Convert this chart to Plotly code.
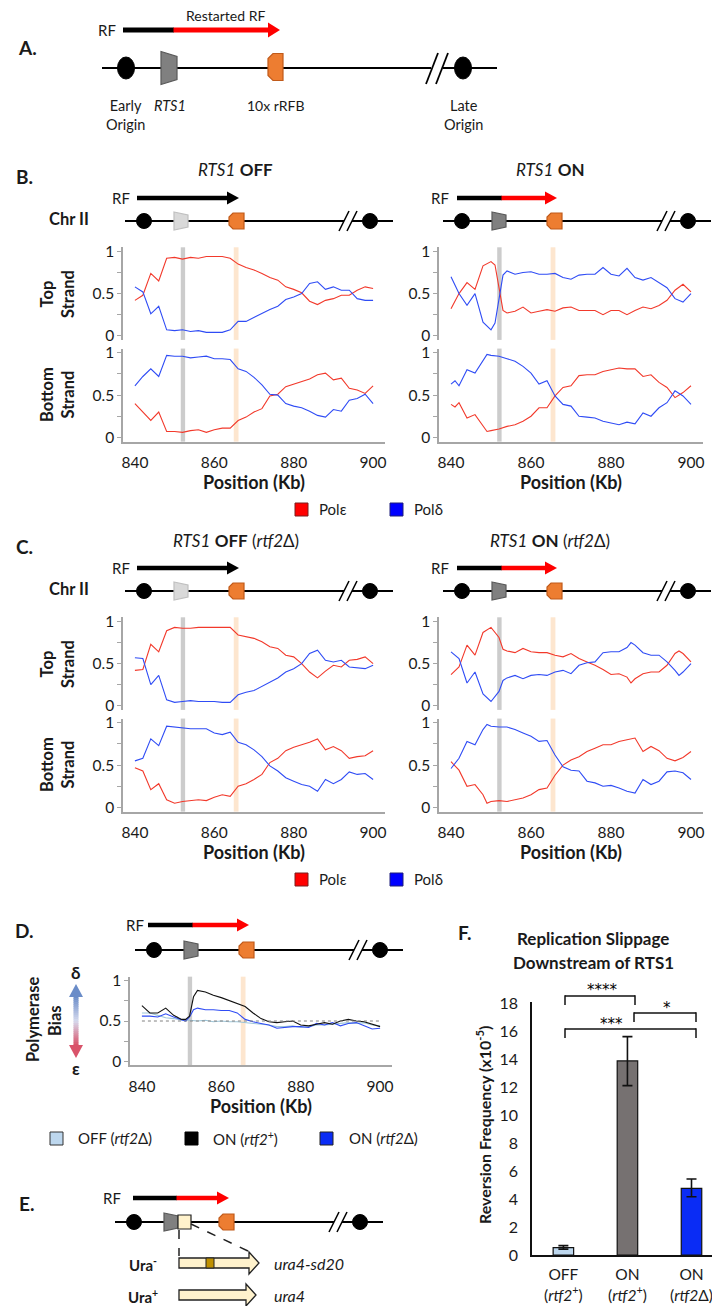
import plotly.graph_objects as go

# ---------------- data ----------------
POS = [840, 842, 844, 846, 848, 850, 852, 854, 856, 858, 860, 862, 864, 866, 868, 870,
       872, 874, 876, 878, 880, 882, 884, 886, 888, 890, 892, 894, 896, 898, 900]

# B: RTS1 OFF
B_OFF_TOP_EPS = [0.42, 0.48, 0.74, 0.65, 0.92, 0.93, 0.91, 0.93, 0.92, 0.94, 0.94, 0.94, 0.92, 0.85, 0.81, 0.78,
                 0.74, 0.69, 0.66, 0.58, 0.55, 0.51, 0.41, 0.37, 0.42, 0.44, 0.48, 0.48, 0.54, 0.58, 0.56]
B_OFF_TOP_DEL = [0.58, 0.52, 0.26, 0.35, 0.07, 0.06, 0.07, 0.05, 0.06, 0.04, 0.04, 0.04, 0.07, 0.17, 0.17, 0.22,
                 0.26, 0.31, 0.35, 0.43, 0.46, 0.50, 0.62, 0.64, 0.55, 0.58, 0.54, 0.54, 0.44, 0.42, 0.42]
B_OFF_BOT_EPS = [0.40, 0.30, 0.20, 0.30, 0.07, 0.07, 0.06, 0.08, 0.09, 0.06, 0.09, 0.11, 0.11, 0.20, 0.24, 0.30,
                 0.34, 0.49, 0.51, 0.60, 0.63, 0.66, 0.69, 0.74, 0.76, 0.68, 0.70, 0.58, 0.56, 0.52, 0.61]
B_OFF_BOT_DEL = [0.61, 0.72, 0.81, 0.72, 0.97, 0.96, 0.96, 0.94, 0.95, 0.96, 0.93, 0.93, 0.92, 0.81, 0.78, 0.71,
                 0.62, 0.51, 0.50, 0.40, 0.37, 0.35, 0.31, 0.26, 0.24, 0.33, 0.31, 0.44, 0.46, 0.51, 0.40]

# B: RTS1 ON
POS_B_ON_TOP = [840, 842, 844, 846, 848, 850, 851, 852, 853, 854, 856, 858, 860, 862, 864, 866, 868,
                870, 872, 874, 876, 878, 880, 882, 884, 886, 888, 890, 892, 894, 896, 898, 900]
B_ON_TOP_EPS = [0.32, 0.50, 0.63, 0.55, 0.83, 0.88, 0.84, 0.58, 0.30, 0.27, 0.29, 0.34, 0.27, 0.29, 0.31, 0.29, 0.33,
                0.34, 0.30, 0.30, 0.30, 0.25, 0.30, 0.30, 0.25, 0.30, 0.34, 0.32, 0.36, 0.42, 0.54, 0.61, 0.52]
B_ON_TOP_DEL = [0.70, 0.50, 0.36, 0.50, 0.16, 0.07, 0.15, 0.44, 0.72, 0.77, 0.73, 0.75, 0.76, 0.73, 0.73, 0.74, 0.69,
                0.67, 0.72, 0.73, 0.73, 0.81, 0.73, 0.71, 0.80, 0.69, 0.66, 0.69, 0.63, 0.57, 0.44, 0.40, 0.50]
POS_B_ON_BOT = [840, 841, 842, 844, 846, 848, 849, 850, 852, 854, 856, 858, 860, 862, 864, 866, 868,
                870, 872, 874, 876, 878, 880, 882, 884, 886, 888, 890, 892, 894, 896, 898, 900]
B_ON_BOT_EPS = [0.39, 0.36, 0.41, 0.23, 0.27, 0.13, 0.07, 0.08, 0.10, 0.13, 0.15, 0.19, 0.25, 0.35, 0.35, 0.49, 0.59,
                0.61, 0.73, 0.74, 0.74, 0.78, 0.80, 0.82, 0.81, 0.81, 0.72, 0.74, 0.65, 0.59, 0.47, 0.53, 0.61]
B_ON_BOT_DEL = [0.63, 0.67, 0.61, 0.80, 0.76, 0.90, 0.98, 0.97, 0.96, 0.93, 0.90, 0.84, 0.76, 0.63, 0.67, 0.49, 0.39,
                0.37, 0.25, 0.24, 0.23, 0.19, 0.17, 0.15, 0.18, 0.16, 0.29, 0.25, 0.35, 0.41, 0.55, 0.49, 0.39]

# C: RTS1 OFF (rtf2Δ)
C_OFF_TOP_EPS = [0.42, 0.43, 0.73, 0.64, 0.89, 0.93, 0.92, 0.92, 0.93, 0.93, 0.93, 0.93, 0.93, 0.84, 0.82, 0.80,
                 0.76, 0.70, 0.68, 0.60, 0.58, 0.50, 0.40, 0.33, 0.41, 0.48, 0.46, 0.54, 0.55, 0.58, 0.50]
C_OFF_TOP_DEL = [0.57, 0.56, 0.25, 0.36, 0.07, 0.04, 0.05, 0.06, 0.05, 0.05, 0.05, 0.04, 0.04, 0.13, 0.16, 0.18,
                 0.23, 0.29, 0.33, 0.40, 0.44, 0.50, 0.62, 0.66, 0.54, 0.52, 0.54, 0.46, 0.45, 0.44, 0.48]
C_OFF_BOT_EPS = [0.47, 0.43, 0.21, 0.28, 0.09, 0.05, 0.07, 0.08, 0.09, 0.08, 0.12, 0.15, 0.13, 0.25, 0.28, 0.33,
                 0.39, 0.53, 0.58, 0.67, 0.71, 0.74, 0.77, 0.81, 0.68, 0.72, 0.67, 0.58, 0.60, 0.61, 0.67]
C_OFF_BOT_DEL = [0.55, 0.58, 0.81, 0.73, 0.96, 0.95, 0.94, 0.93, 0.93, 0.93, 0.88, 0.86, 0.89, 0.77, 0.74, 0.68,
                 0.60, 0.49, 0.43, 0.35, 0.31, 0.27, 0.25, 0.19, 0.33, 0.28, 0.33, 0.42, 0.39, 0.40, 0.33]

# C: RTS1 ON (rtf2Δ)
POS_C_ON_TOP = [840, 842, 844, 846, 848, 850, 852, 853, 854, 856, 858, 860, 862, 864, 866, 868, 870,
                872, 874, 876, 878, 880, 882, 884, 885, 886, 888, 890, 892, 894, 896, 897, 898, 900]
C_ON_TOP_EPS = [0.37, 0.46, 0.72, 0.60, 0.87, 0.93, 0.81, 0.67, 0.65, 0.63, 0.68, 0.64, 0.63, 0.63, 0.60, 0.58, 0.62,
                0.56, 0.52, 0.48, 0.43, 0.37, 0.38, 0.34, 0.27, 0.32, 0.38, 0.40, 0.40, 0.48, 0.62, 0.65, 0.62, 0.52]
C_ON_TOP_DEL = [0.64, 0.56, 0.27, 0.40, 0.14, 0.05, 0.17, 0.30, 0.33, 0.36, 0.32, 0.36, 0.37, 0.36, 0.40, 0.42, 0.38,
                0.48, 0.51, 0.52, 0.63, 0.64, 0.64, 0.69, 0.75, 0.72, 0.63, 0.60, 0.60, 0.52, 0.42, 0.36, 0.40, 0.50]
POS_C_ON_BOT = [840, 842, 844, 846, 848, 849, 850, 852, 854, 856, 858, 860, 862, 864, 866, 868,
                870, 872, 874, 876, 878, 880, 882, 884, 886, 888, 890, 892, 894, 896, 898, 900]
C_ON_BOT_EPS = [0.54, 0.44, 0.25, 0.27, 0.15, 0.05, 0.07, 0.08, 0.07, 0.09, 0.11, 0.15, 0.21, 0.23, 0.38, 0.50,
                0.56, 0.60, 0.66, 0.70, 0.74, 0.74, 0.78, 0.80, 0.82, 0.66, 0.72, 0.67, 0.58, 0.55, 0.59, 0.66]
C_ON_BOT_DEL = [0.46, 0.58, 0.78, 0.74, 0.92, 0.98, 0.96, 0.95, 0.95, 0.92, 0.88, 0.84, 0.78, 0.79, 0.62, 0.48,
                0.44, 0.43, 0.31, 0.29, 0.25, 0.26, 0.23, 0.19, 0.17, 0.33, 0.27, 0.31, 0.42, 0.43, 0.41, 0.33]

# D: polymerase bias
POS_D = [840, 842, 844, 846, 848, 850, 851, 852, 853, 854, 856, 858, 860, 862, 864, 866, 868,
         870, 872, 874, 876, 878, 880, 882, 884, 886, 888, 890, 892, 894, 896, 898, 900]
D_ON_RTF2_PLUS = [0.69, 0.60, 0.60, 0.66, 0.57, 0.52, 0.52, 0.56, 0.80, 0.88, 0.86, 0.82, 0.79, 0.75, 0.72, 0.68, 0.60,
                  0.53, 0.49, 0.48, 0.49, 0.50, 0.45, 0.44, 0.46, 0.48, 0.46, 0.50, 0.52, 0.50, 0.49, 0.46, 0.43]
D_ON_RTF2_DEL = [0.56, 0.56, 0.55, 0.59, 0.55, 0.51, 0.50, 0.55, 0.64, 0.66, 0.64, 0.64, 0.63, 0.63, 0.60, 0.52, 0.49,
                 0.47, 0.45, 0.41, 0.42, 0.43, 0.43, 0.42, 0.47, 0.45, 0.48, 0.44, 0.47, 0.48, 0.44, 0.40, 0.41]
D_OFF_RTF2_DEL = [0.60, 0.60, 0.57, 0.54, 0.53, 0.51, 0.51, 0.50, 0.51, 0.49, 0.50, 0.49, 0.49, 0.48, 0.47, 0.46,
                  0.45, 0.43, 0.43, 0.44, 0.42, 0.43, 0.45, 0.45, 0.46, 0.47, 0.48, 0.47, 0.48, 0.45, 0.44]

RTS1_KB = 852.1
RFB_KB = 865.5

# F: reversion frequency
F_CATS = ["OFF<br>(<i>rtf2</i><sup>+</sup>)", "ON<br>(<i>rtf2</i><sup>+</sup>)", "ON<br>(<i>rtf2</i>Δ)"]
F_VALUES = [0.52, 13.86, 4.76]
F_ERR_UP = [0.15, 1.74, 0.67]
F_ERR_DOWN = [0.10, 1.76, 0.60]
F_YTICKS = [0, 2, 4, 6, 8, 10, 12, 14, 16, 18]

# ---------------- styling / helpers ----------------
W, H = 712, 1306
FONT = "Lato, 'Open Sans', 'DejaVu Sans', sans-serif"
TXT = "#1a1a1a"
RED = "#f2392b"
BLUE = "#2f4cf5"
ARROW_RED = "#ff0000"
AXC = "#a6a6a6"

shapes, annotations, axes = [], [], {}
fig = go.Figure()


def X(p):
    return p / W


def Y(p):
    return 1 - p / H


def seg(x0, y0, x1, y1, color="black", width=2, dash=None):
    shapes.append(dict(type="line", xref="paper", yref="paper", x0=X(x0), y0=Y(y0), x1=X(x1), y1=Y(y1),
                       line=dict(color=color, width=width, dash=dash)))


def rect(x0, y0, x1, y1, fill, lc=None, lw=0):
    shapes.append(dict(type="rect", xref="paper", yref="paper", x0=X(x0), y0=Y(y1), x1=X(x1), y1=Y(y0),
                       fillcolor=fill, line=dict(color=lc or fill, width=lw)))


def ellipse(cx, cy, w, h, fill="black"):
    shapes.append(dict(type="circle", xref="paper", yref="paper", x0=X(cx - w / 2), x1=X(cx + w / 2),
                       y0=Y(cy + h / 2), y1=Y(cy - h / 2), fillcolor=fill, line=dict(color=fill, width=1)))


def poly(pts, fill, lc=None, lw=1):
    path = "M " + " L ".join(f"{X(a):.5f},{Y(b):.5f}" for a, b in pts) + " Z"
    shapes.append(dict(type="path", xref="paper", yref="paper", path=path, fillcolor=fill,
                       line=dict(color=lc or fill, width=lw)))


def text(x, y, s, size=15, xanchor="center", angle=0, color=TXT, family=FONT):
    annotations.append(dict(x=X(x), y=Y(y), xref="paper", yref="paper", text=s, showarrow=False,
                            font=dict(size=size, family=family, color=color), xanchor=xanchor,
                            yanchor="middle", textangle=angle, borderpad=0))


def fork(xs, xm, xe, y, thick=5, hl=12, hh=6.5, restarted=True):
    if restarted:
        seg(xs, y, xm, y, "black", thick)
        seg(xm - 0.5, y, xe - hl + 1, y, ARROW_RED, thick)
        poly([(xe - hl, y - hh), (xe, y), (xe - hl, y + hh)], ARROW_RED, ARROW_RED, 0)
    else:
        seg(xs, y, xe - hl + 1, y, "black", thick)
        poly([(xe - hl, y - hh), (xe, y), (xe - hl, y + hh)], "black", "black", 0)


def trapezoid(l, r, cy, hl, hr, fill, lc):
    poly([(l, cy - hl), (r, cy - hr), (r, cy + hr), (l, cy + hl)], fill, lc, 1.2)


def rfb(l, r, cy, h, cut=4):
    poly([(l + cut, cy - h), (r, cy - h), (r, cy + h), (l + cut, cy + h), (l, cy + h - cut), (l, cy - h + cut)],
         "#ed7d31", "#c05a1a", 1.2)


def slashes(xc, cy, h):
    for dx in (-4, 4):
        seg(xc + dx - 5, cy + h, xc + dx + 5, cy - h, "black", 1.6)


def chromosome(x0, cy, rts_fill, rts_line, extra_box=False):
    seg(x0, cy, x0 + 219, cy, "black", 2)
    seg(x0 + 227, cy, x0 + 268, cy, "black", 2)
    slashes(x0 + 223, cy, 10)
    ellipse(x0 + 19, cy, 15, 15)
    trapezoid(x0 + 49, x0 + 63, cy, 9, 6, rts_fill, rts_line)
    rfb(x0 + 104, x0 + 119, cy, 8)
    ellipse(x0 + 245, cy, 15, 15)
    if extra_box:
        rect(x0 + 63, cy - 7, x0 + 76, cy + 7, "#fff2cc", "#222222", 1.2)


# ---------------- profile subplots ----------------
n_ax = [0]


def profile(xpx, p1, p0, series, bottom):
    n_ax[0] += 1
    i = n_ax[0]
    xr = "x" if i == 1 else f"x{i}"
    yr = "y" if i == 1 else f"y{i}"
    span = p0 - p1
    top, bot = p1 - 0.05 * span, p0 + 0.05 * span
    xa = dict(domain=[X(xpx[0]), X(xpx[1])], range=[837, 903], anchor=yr, showgrid=False, zeroline=False,
              automargin=False)
    if bottom:
        xa.update(showline=True, linecolor=AXC, linewidth=1.5, showticklabels=True,
                  tickvals=[840, 860, 880, 900], ticks="outside", ticklen=6, tickcolor="rgba(0,0,0,0)",
                  ticklabeloverflow="allow", tickfont=dict(size=15.5, family=FONT, color=TXT))
    else:
        xa.update(visible=False)
    axes["xaxis" if i == 1 else f"xaxis{i}"] = xa
    axes["yaxis" if i == 1 else f"yaxis{i}"] = dict(
        domain=[Y(bot), Y(top)], range=[-0.05, 1.05], anchor=xr, showgrid=False, zeroline=False,
        automargin=False, showline=True, linecolor=AXC, linewidth=1.5, tickvals=[0, 0.5, 1],
        ticktext=["0", "0.5", "1"], ticks="outside", ticklen=4, tickcolor=AXC, tickwidth=1,
        minor=dict(tickmode="array", tickvals=[0.25, 0.75], ticks="outside", ticklen=4, tickcolor=AXC),
        tickfont=dict(size=15.5, family=FONT, color=TXT))
    for kb, col, w in ((RTS1_KB, "#cccccc", 1.1), (RFB_KB, "#fde6cf", 1.2)):
        shapes.append(dict(type="rect", xref=xr, yref=f"{yr} domain", x0=kb - w / 2, x1=kb + w / 2, y0=0, y1=1,
                           fillcolor=col, line=dict(width=0), layer="below"))
    for xs, ys, col, lw in series:
        fig.add_trace(go.Scatter(x=xs, y=ys, mode="lines", line=dict(color=col, width=lw),
                                 xaxis=xr, yaxis=yr, hoverinfo="skip", showlegend=False))
    return xr, yr


LEFT, RIGHT = (123, 385), (439, 703)
for dy, sets in ((0, ((POS, B_OFF_TOP_EPS, B_OFF_TOP_DEL, POS, B_OFF_BOT_EPS, B_OFF_BOT_DEL),
                      (POS_B_ON_TOP, B_ON_TOP_EPS, B_ON_TOP_DEL, POS_B_ON_BOT, B_ON_BOT_EPS, B_ON_BOT_DEL))),
                 (370, ((POS, C_OFF_TOP_EPS, C_OFF_TOP_DEL, POS, C_OFF_BOT_EPS, C_OFF_BOT_DEL),
                        (POS_C_ON_TOP, C_ON_TOP_EPS, C_ON_TOP_DEL, POS_C_ON_BOT, C_ON_BOT_EPS, C_ON_BOT_DEL)))):
    for xpx, s in zip((LEFT, RIGHT), sets):
        profile(xpx, 251.5 + dy, 335.7 + dy, [(s[0], s[1], RED, 1.1), (s[0], s[2], BLUE, 1.1)], False)
        profile(xpx, 352.8 + dy, 437.4 + dy, [(s[3], s[4], RED, 1.1), (s[3], s[5], BLUE, 1.1)], True)

# D plot
xr_d, yr_d = profile((130, 392), 980.7, 1061.3,
                     [(POS, D_OFF_RTF2_DEL, "#9ec5d8", 1.1), (POS_D, D_ON_RTF2_DEL, "#2f4cf5", 1.1),
                      (POS_D, D_ON_RTF2_PLUS, "#111111", 1.1)], True)
shapes.append(dict(type="line", xref=xr_d, yref=yr_d, x0=840, x1=900, y0=0.5, y1=0.5,
                   line=dict(color="#808080", width=1, dash="dot")))

# F bar chart
fig.add_trace(go.Bar(x=[0, 1, 2], y=F_VALUES, width=0.32,
                     marker=dict(color=["#bdd7ee", "#767171", "#0a2cf5"], line=dict(color="#111111", width=1.2)),
                     error_y=dict(type="data", array=F_ERR_UP, arrayminus=F_ERR_DOWN, color="#111111",
                                  thickness=1.6, width=5),
                     xaxis="x10", yaxis="y10", hoverinfo="skip", showlegend=False))
axes["xaxis10"] = dict(domain=[X(532), 1.0], range=[-0.49, 2.32], anchor="y10", showgrid=False, zeroline=False,
                       automargin=False, showline=True, linecolor="#111111", linewidth=1.5, tickvals=[0, 1, 2],
                       ticktext=F_CATS, ticks="outside", ticklen=5, tickcolor="rgba(0,0,0,0)",
                       ticklabeloverflow="allow", tickfont=dict(size=15.5, family=FONT, color=TXT))
axes["yaxis10"] = dict(domain=[Y(1255), Y(1255 - 18.1 * 14)], range=[0, 18.1], anchor="x10", showgrid=False,
                       automargin=False, zeroline=False, showline=True, linecolor="#111111", linewidth=1.5,
                       tickvals=F_YTICKS, ticks="outside", ticklen=9, tickcolor="rgba(0,0,0,0)",
                       tickfont=dict(size=16, family=FONT, color=TXT))

# ---------------- panel A schematic ----------------
text(27, 47, "<b>A.</b>", 19)
text(107, 30, "RF", 15)
fork(123, 174, 280, 30, thick=5, hl=12, hh=7.5)
text(225, 15, "Restarted RF", 14)
seg(102, 68, 431, 68, "black", 2.2)
seg(443, 68, 497, 68, "black", 2.2)
for dx in (-5, 5):
    seg(437 + dx - 6, 84, 437 + dx + 6, 53, "black", 1.8)
ellipse(126, 68, 17, 22)
trapezoid(161, 177, 68, 16.5, 11.5, "#808080", "#595959")
rfb(268, 283, 67, 13.5, 5)
ellipse(463, 68, 17, 22)
text(126, 115, "Early<br>Origin", 14.5)
text(170, 106, "<i>RTS1</i>", 14.5)
text(276, 106, "10x rRFB", 14)
text(463, 115, "Late<br>Origin", 14.5)

# ---------------- panels B and C schematics ----------------
for dy, letter, suffix in ((0, "B.", ""), (370, "C.", " (<i>rtf2</i>Δ)")):
    text(24, 177 + dy, f"<b>{letter}</b>", 19)
    text(236, 170 + dy, f"<i>RTS1</i> <b>OFF</b>{suffix}", 17)
    text(550, 170 + dy, f"<i>RTS1</i> <b>ON</b>{suffix}", 17)
    text(121, 198 + dy, "RF", 15)
    text(440, 198 + dy, "RF", 15)
    fork(137, 0, 239, 198 + dy, thick=4.5, hl=12, hh=6.5, restarted=False)
    fork(457, 502, 557, 198 + dy, thick=4.5, hl=12, hh=6.5)
    text(69, 219 + dy, "<b>Chr II</b>", 16.5)
    chromosome(125, 221 + dy, "#d9d9d9", "#bfbfbf")
    chromosome(443, 221 + dy, "#808080", "#595959")
    text(57, 294 + dy, "<b>Top<br>Strand</b>", 16.5, angle=-90)
    text(57, 395 + dy, "<b>Bottom<br>Strand</b>", 16.5, angle=-90)
    text(254, 482 + dy, "<b>Position (Kb)</b>", 18)
    text(571, 482 + dy, "<b>Position (Kb)</b>", 18)
    rect(295, 503 + dy, 308, 516 + dy, "#ff0000", "#7a1f1f", 1)
    text(318, 509 + dy, "Polε", 15, xanchor="left")
    rect(390, 503 + dy, 403, 516 + dy, "#0000ff", "#1f1f7a", 1)
    text(413, 509 + dy, "Polδ", 15, xanchor="left")

# ---------------- panel D decorations ----------------
text(24, 931, "<b>D.</b>", 19)
text(135, 925, "RF", 15)
fork(148, 193, 249, 925, thick=4.5, hl=12, hh=6.5)
chromosome(135, 950, "#808080", "#595959")
text(33, 1020, "<b>Polymerase</b>", 16.5, angle=-90)
text(55, 1020, "<b>Bias</b>", 16.5, angle=-90)
text(76, 972, "<b>δ</b>", 17)
text(76, 1068, "<b>ε</b>", 17)


def mix(c1, c2, t):
    a = [int(c1[k:k + 2], 16) for k in (1, 3, 5)]
    b = [int(c2[k:k + 2], 16) for k in (1, 3, 5)]
    return "#" + "".join(f"{round(a[k] + (b[k] - a[k]) * t):02x}" for k in range(3))


TOPC, MIDC, BOTC = "#6a8cc8", "#d6daee", "#d9536a"
n_seg = 24
y_a, y_b = 996, 1046
for k in range(n_seg):
    t = k / (n_seg - 1)
    col = mix(TOPC, MIDC, t * 2) if t < 0.5 else mix(MIDC, BOTC, (t - 0.5) * 2)
    ya = y_a + (y_b - y_a) * k / n_seg
    rect(73.5, ya, 78.5, ya + (y_b - y_a) / n_seg + 0.6, col)
poly([(69, 997), (76, 984), (83, 997)], TOPC, TOPC, 0)
poly([(69, 1045), (76, 1058), (83, 1045)], BOTC, BOTC, 0)
text(261, 1106, "<b>Position (Kb)</b>", 18)
rect(50, 1132, 63, 1145, "#bdd7ee", "#333333", 1)
text(77, 1138, "OFF (<i>rtf2</i>Δ)", 15, xanchor="left")
rect(185, 1132, 198, 1145, "#000000", "#000000", 1)
text(212, 1138, "ON (<i>rtf2</i><sup>+</sup>)", 15, xanchor="left")
rect(320, 1132, 333, 1145, "#0a2cf5", "#222222", 1)
text(348, 1138, "ON (<i>rtf2</i>Δ)", 15, xanchor="left")

# ---------------- panel E ----------------
text(26, 1203, "<b>E.</b>", 19)
text(112, 1198, "RF", 15)
fork(133, 177, 229, 1198, thick=4.5, hl=12, hh=6.5)
chromosome(115, 1222, "#808080", "#595959", extra_box=True)
seg(179, 1230, 179, 1256, "#222222", 1.5, "dash")
seg(191, 1224, 250, 1252, "#222222", 1.5, "dash")
poly([(179, 1258), (249, 1258), (249, 1252), (259, 1263), (249, 1274), (249, 1268), (179, 1268)],
     "#fff2cc", "#222222", 1.3)
rect(206, 1258, 214, 1268, "#bf9000", "#222222", 1)
poly([(179, 1290), (246, 1290), (246, 1284), (256, 1295), (246, 1306), (246, 1300), (179, 1300)],
     "#fff2cc", "#222222", 1.3)
text(143, 1264, "<b>Ura<sup>-</sup></b>", 15)
text(143, 1296, "<b>Ura<sup>+</sup></b>", 15)
text(273, 1263, "<i>ura4-sd20</i>", 16, xanchor="left")
text(273, 1295, "<i>ura4</i>", 16, xanchor="left")

# ---------------- panel F decorations ----------------
text(465, 932, "<b>F.</b>", 19)
text(593, 938, "<b>Replication Slippage</b>", 17)
text(593, 962, "<b>Downstream of RTS1</b>", 17)
text(483, 1125, "<b>Reversion Frequency (x10<sup>-5</sup>)</b>", 16, angle=-90)
for (xa, xb, yt, yb) in ((565, 635, 996, 1005), (634, 696, 1013, 1022), (565, 696, 1029, 1038)):
    seg(xa, yt, xb, yt, "#111111", 1.5)
    seg(xa, yt - 0.7, xa, yb, "#111111", 1.5)
    seg(xb, yt - 0.7, xb, yb, "#111111", 1.5)
STAR_FONT = "'DejaVu Sans', sans-serif"
text(602, 990, "****", 15, color="#000000", family=STAR_FONT)
text(667, 1008, "*", 15, color="#000000", family=STAR_FONT)
text(611, 1024, "***", 15, color="#000000", family=STAR_FONT)

fig.update_layout(width=W, height=H, margin=dict(l=0, r=0, t=0, b=0, autoexpand=False), paper_bgcolor="white",
                  plot_bgcolor="white", showlegend=False, bargap=0.5, shapes=shapes, annotations=annotations,
                  font=dict(family=FONT, color=TXT), **axes)
fig.write_html("out.html", config={"displayModeBar": False},
               post_script="document.body.style.margin='0';")
